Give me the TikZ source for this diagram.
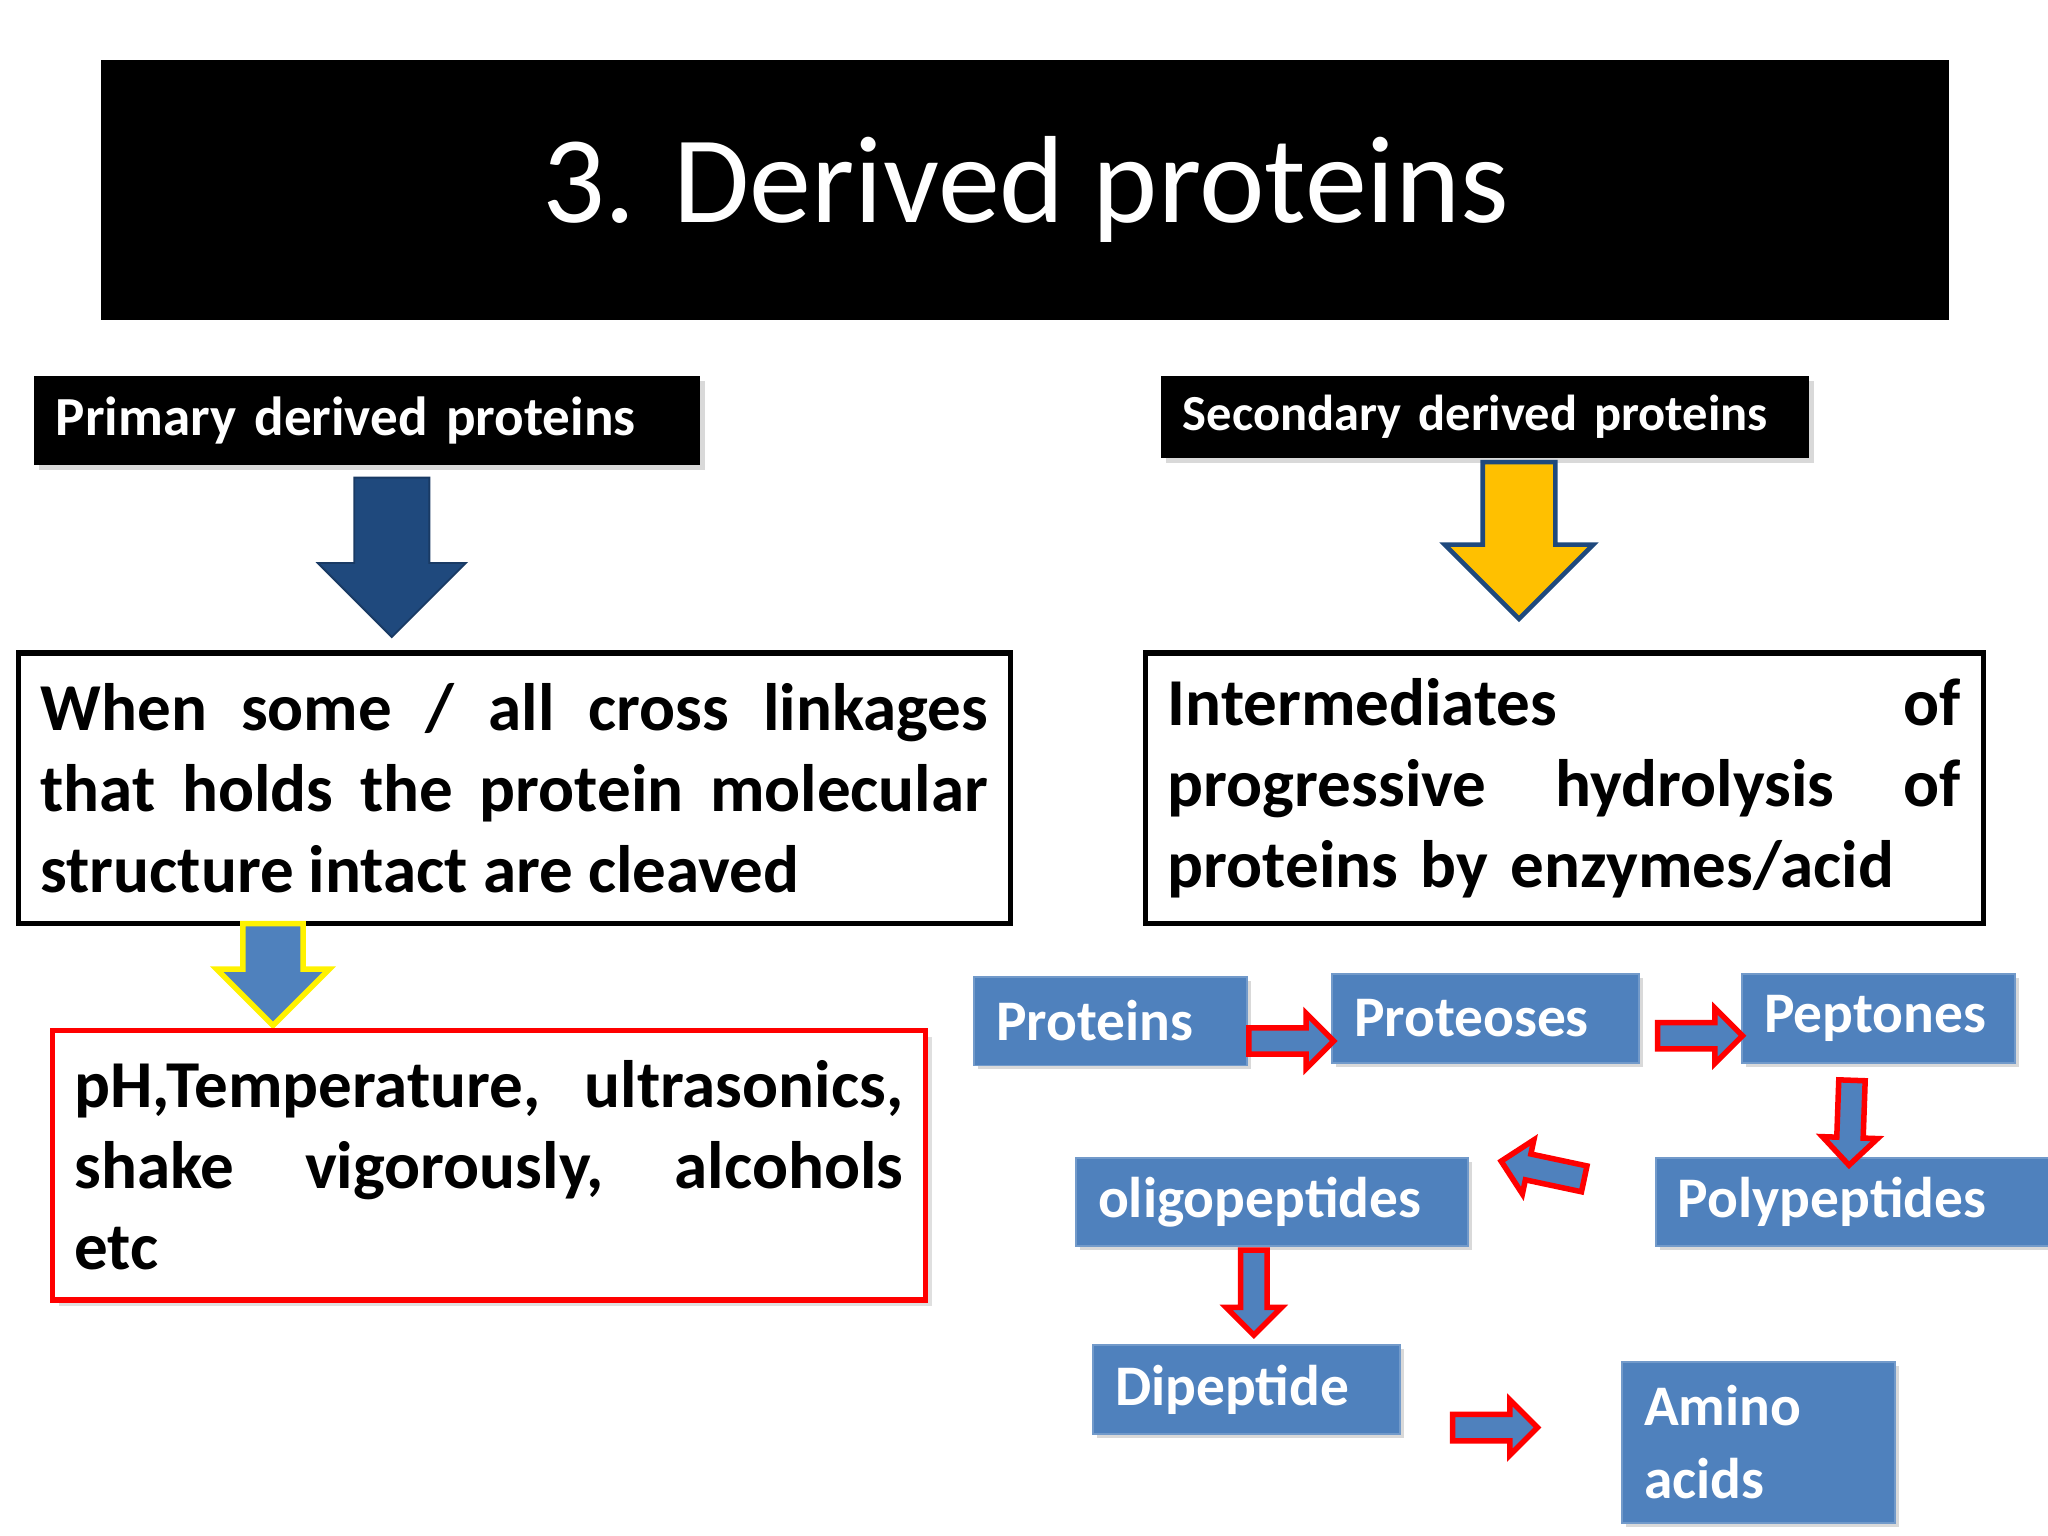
\documentclass[tikz,border=0pt]{standalone}
\usepackage{fontspec}
\setmainfont{Carlito}
\usetikzlibrary{shapes.arrows,shadows}
\definecolor{dblue}{RGB}{31,73,125}
\definecolor{mblue}{RGB}{79,129,189}
\definecolor{gold}{RGB}{255,192,0}
\begin{document}
\begin{tikzpicture}[x=0.01cm,y=-0.01cm,
 hdr/.style={fill=black,text=white,font=\bfseries\fontsize{12}{14}\selectfont,drop shadow={opacity=0.3,shadow xshift=0.04cm,shadow yshift=-0.04cm},inner xsep=0.17cm,inner ysep=0,align=left,anchor=north west},
 txt/.style={draw=black,fill=white,line width=1.2pt,font=\bfseries\fontsize{14.6}{17.6}\selectfont,align=justify,inner xsep=0.17cm,inner ysep=0.1cm,anchor=north west},
 bbox/.style={fill=mblue,draw=mblue!80!white,text=white,font=\bfseries\fontsize{12.5}{15}\selectfont,drop shadow={opacity=0.3,shadow xshift=0.03cm,shadow yshift=-0.03cm},anchor=north west,inner xsep=0.17cm,inner ysep=0,align=left},
 fat/.style={single arrow,inner sep=0,single arrow head extend=#1,anchor=tail},
 rarr/.style={fat=0.11cm,fill=mblue,draw=red,line width=1.2pt,minimum height=0.65cm,minimum width=0.38cm,inner sep=0.08cm}]
\useasboundingbox (0,0) rectangle (1568,1176);
\node[fill=black,anchor=north west,minimum width=14.14cm,minimum height=1.99cm,text=white,font=\fontsize{27}{32}\selectfont] (title) at (77,45) {3. Derived proteins};
\node[hdr,text width=4.76cm,minimum height=0.68cm] (pri) at (25,287) {Primary derived proteins};
\node[hdr,text width=4.62cm,minimum height=0.63cm,font=\bfseries\fontsize{11}{13}\selectfont] (sec) at (888,287) {Secondary derived proteins};
\node[fat=0.28cm,fill=dblue,draw=dblue!80!black,minimum height=1.22cm,minimum width=1.12cm,inner sep=0.28cm,rotate=-90] (a1) at (300,365) {};
\node[fat=0.29cm,fill=gold,draw=dblue,line width=1pt,minimum height=1.2cm,minimum width=1.1cm,inner sep=0.26cm,rotate=-90] (a2) at (1163,352) {};
\node[txt,text width=7.25cm,minimum height=2.07cm] (lt) at (12,498) {When some / all cross linkages that holds the protein molecular structure intact are cleaved};
\node[txt,text width=6.07cm,minimum height=2.07cm,align=left] (rt) at (875,498) {Intermediates\hfill of\\progressive\hfill hydrolysis\hfill of\\proteins by enzymes/acid};
\node[fat=0.2cm,fill=mblue,draw=yellow,line width=1.2pt,minimum height=0.78cm,minimum width=0.82cm,inner sep=0.21cm,rotate=-90] (a3) at (209,705) {};
\node[txt,draw=red,text width=6.34cm,minimum height=2.06cm,align=left,drop shadow={opacity=0.25,shadow xshift=0.05cm,shadow yshift=-0.05cm}] (red) at (38,787) {pH,Temperature,\hfill ultrasonics,\\shake\hfill vigorously,\hfill alcohols\\etc};
\node[bbox,text width=1.75cm,minimum height=0.68cm] (p1) at (745,747) {Proteins};
\node[bbox,text width=2.01cm,minimum height=0.68cm] (p2) at (1019,745) {Proteoses};
\node[bbox,text width=1.75cm,minimum height=0.68cm] (p3) at (1333,745) {Peptones};
\node[bbox,text width=2.66cm,minimum height=0.67cm] (p5) at (823,886) {oligopeptides};
\node[bbox,text width=2.67cm,minimum height=0.67cm] (p4) at (1267,886) {Polypeptides};
\node[bbox,text width=2.01cm,minimum height=0.68cm] (p6) at (836,1029) {Dipeptide};
\node[bbox,text width=1.75cm,minimum height=1.23cm,font=\bfseries\fontsize{12.5}{16}\selectfont] (p7) at (1241,1042) {Amino\\acids};
\node[rarr] (r1) at (954,797) {};
\node[rarr] (r2) at (1267,793) {};
\node[rarr,rotate=-92] (r3) at (1418,825) {};
\node[rarr,rotate=168] (r4) at (1215,903) {};
\node[rarr,rotate=-90] (r5) at (960,955) {};
\node[rarr] (r6) at (1110,1093) {};
\end{tikzpicture}
\end{document}
